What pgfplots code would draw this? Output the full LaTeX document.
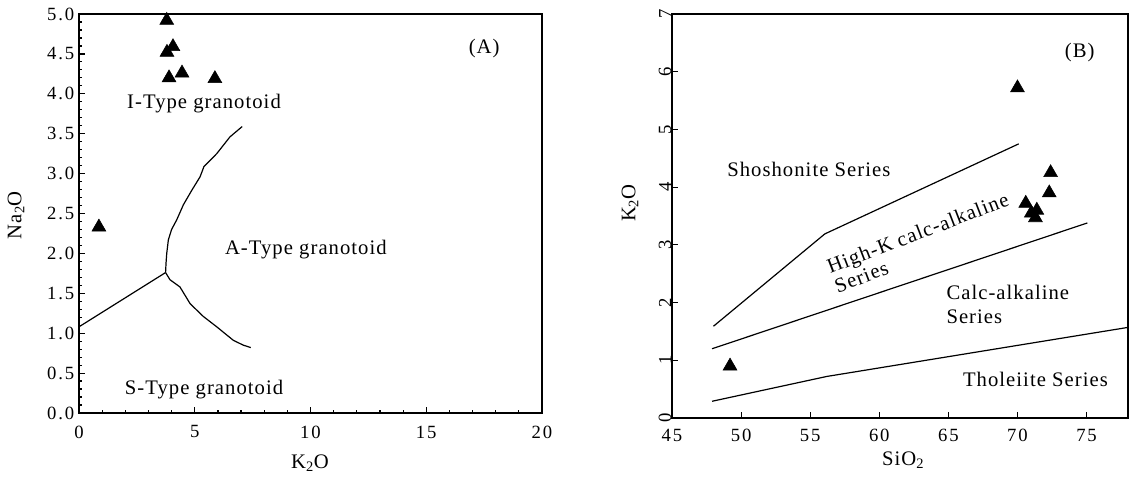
\documentclass[border=0pt]{standalone}
\usepackage{pgfplots}
\pgfplotsset{compat=1.18}
\usepackage{fontspec}
\setmainfont{Liberation Serif}[LetterSpace=5]
\newfontfamily\tickfont{Liberation Serif}[LetterSpace=10]
\newcommand\lblfont{\fontsize{15.5}{18}\selectfont}
\begin{document}
\begin{tikzpicture}
\path[use as bounding box] (0,0) rectangle (847.5pt,360pt);
\pgfplotsset{
  every axis/.append style={
    scale only axis,
    axis line style={line width=1.1pt},
    tick align=inside,
    tick pos=left,
    major tick length=4.5pt,
    minor tick length=2.5pt,
    every tick/.style={black,line width=0.9pt},
    tick label style={font=\tickfont\fontsize{14}{16}\selectfont},
    /pgf/number format/assume math mode=true,
    clip=false,
  },
}
% ---------- Panel A ----------
\begin{axis}[
  at={(59.25pt,50.25pt)}, anchor=south west,
  width=347.25pt, height=299.25pt,
  xmin=0, xmax=20, ymin=0, ymax=5,
  xtick={0,5,10,15,20}, ytick={0,0.5,...,5},
  minor x tick num=4, minor y tick num=4,
  yticklabel style={/pgf/number format/.cd, fixed, fixed zerofill, precision=1},
  xticklabel style={yshift=-6pt},
]
\addplot[black, line width=0.9pt] coordinates {(0,1.08) (3.74,1.76)};
\addplot[black, line width=0.9pt] coordinates {(3.74,1.76) (3.76,1.88) (3.79,2.0) (3.86,2.17) (4.0,2.30) (4.22,2.42) (4.51,2.61) (4.87,2.79) (5.23,2.96) (5.40,3.09) (5.95,3.25) (6.52,3.46) (7.05,3.59)};
\addplot[black, line width=0.9pt] coordinates {(3.74,1.76) (3.93,1.67) (4.36,1.58) (4.8,1.37) (5.37,1.21) (5.95,1.08) (6.67,0.91) (7.1,0.85) (7.42,0.82)};
\addplot[only marks, mark=triangle*, mark size=6pt, black] coordinates {
 (3.79,4.92) (4.06,4.59) (3.80,4.52) (3.89,4.20) (4.45,4.26) (5.87,4.19) (0.86,2.33)};
\node[font=\lblfont] at (axis cs:5.4,3.88) {I-Type granotoid};
\node[font=\lblfont] at (axis cs:9.8,2.05) {A-Type granotoid};
\node[font=\lblfont] at (axis cs:5.4,0.29) {S-Type granotoid};
\node[font=\lblfont] at (axis cs:17.5,4.57) {(A)};
\node[font=\lblfont, rotate=90] at (rel axis cs:-0.136,0.496) {Na\textsubscript{2}O};
\node[font=\lblfont] at (rel axis cs:0.499,-0.125) {K\textsubscript{2}O};
\end{axis}
% ---------- Panel B ----------
\begin{axis}[
  at={(504pt,46.5pt)}, anchor=south west,
  width=342pt, height=303pt,
  xmin=45, xmax=78, ymin=0, ymax=7,
  xtick={45,50,...,75}, ytick={0,1,...,7},
  yticklabel style={rotate=90, anchor=south, yshift=-3pt},
  xticklabel style={yshift=-5pt},
]
\addplot[black, line width=0.9pt] coordinates {(48,1.59) (56.06,3.19) (70.09,4.75)};
\addplot[black, line width=0.9pt] coordinates {(47.9,1.2) (75.06,3.38)};
\addplot[black, line width=0.9pt] coordinates {(47.9,0.29) (56.2,0.72) (78,1.57)};
\addplot[only marks, mark=triangle*, mark size=6pt, black] coordinates {
 (49.2,0.9) (70.0,5.72) (72.4,4.25) (72.3,3.9) (70.6,3.72) (71.0,3.55) (71.4,3.6) (71.3,3.47)};
\node[font=\lblfont] at (axis cs:54.9,4.3) {Shoshonite Series};
\node[font=\fontsize{15.5}{15.5}\selectfont, rotate=21, align=left] at (axis cs:63.05,3.04) {High-K calc-alkaline\\Series};
\node[font=\lblfont, align=left] at (axis cs:69.3,1.96) {Calc-alkaline\\Series};
\node[font=\lblfont] at (axis cs:71.3,0.66) {Tholeiite Series};
\node[font=\lblfont] at (axis cs:74.5,6.33) {(B)};
\node[font=\lblfont, rotate=90] at (rel axis cs:-0.092,0.532) {K\textsubscript{2}O};
\node[font=\lblfont] at (rel axis cs:0.507,-0.104) {SiO\textsubscript{2}};
\end{axis}
\end{tikzpicture}
\end{document}
